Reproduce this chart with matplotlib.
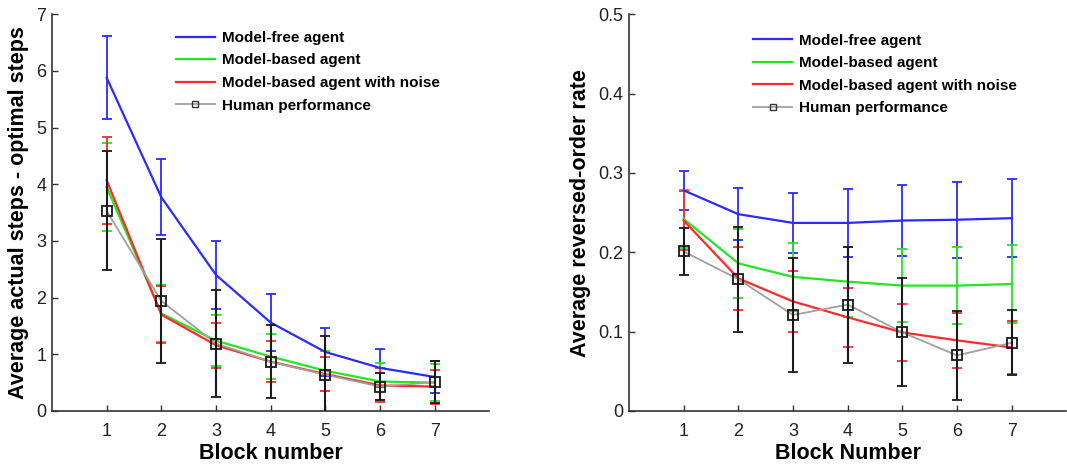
import matplotlib
matplotlib.use("Agg")
import matplotlib.pyplot as plt
from matplotlib.lines import Line2D

plt.rcParams['font.family'] = ['Liberation Sans', 'DejaVu Sans']

blocks = [1, 2, 3, 4, 5, 6, 7]

# Left panel: average actual steps - optimal steps
steps_free = [5.88, 3.77, 2.40, 1.56, 1.04, 0.76, 0.60]
steps_free_err = [0.73, 0.67, 0.60, 0.50, 0.42, 0.33, 0.29]
steps_based = [3.95, 1.72, 1.24, 0.96, 0.71, 0.52, 0.50]
steps_based_err = [0.78, 0.50, 0.45, 0.40, 0.35, 0.32, 0.33]
steps_noise = [4.07, 1.70, 1.16, 0.87, 0.65, 0.45, 0.43]
steps_noise_err = [0.77, 0.50, 0.40, 0.36, 0.30, 0.30, 0.30]
steps_human = [3.53, 1.94, 1.19, 0.87, 0.64, 0.43, 0.51]
steps_human_err = [1.05, 1.09, 0.95, 0.64, 0.68, 0.24, 0.37]

# Right panel: average reversed-order rate
rev_free = [0.278, 0.248, 0.237, 0.237, 0.240, 0.241, 0.243]
rev_free_err = [0.025, 0.033, 0.038, 0.043, 0.045, 0.048, 0.049]
rev_based = [0.242, 0.186, 0.169, 0.163, 0.158, 0.158, 0.160]
rev_based_err = [0.036, 0.043, 0.043, 0.044, 0.046, 0.049, 0.049]
rev_noise = [0.240, 0.167, 0.138, 0.118, 0.099, 0.089, 0.080]
rev_noise_err = [0.037, 0.040, 0.039, 0.037, 0.036, 0.035, 0.034]
rev_human = [0.201, 0.166, 0.121, 0.134, 0.099, 0.070, 0.086]
rev_human_err = [0.030, 0.066, 0.072, 0.073, 0.068, 0.056, 0.041]

labels = ["Model-free agent", "Model-based agent",
          "Model-based agent with noise", "Human performance"]
c_free, c_based, c_noise = "#2b2bff", "#22e622", "#ff2b2b"
c_human = "#a0a0a0"
axis_col = "#333333"

fig = plt.figure(figsize=(10.67, 4.69), dpi=100)
ax1 = fig.add_axes([0.0487, 0.1237, 0.41, 0.846])
ax2 = fig.add_axes([0.5895, 0.1237, 0.41, 0.846])


def draw(ax, free, free_e, based, based_e, noise, noise_e, human, human_e):
    lw = 1.6
    cap = 3.5
    for y, e, c in [(free, free_e, c_free), (based, based_e, c_based),
                    (noise, noise_e, c_noise)]:
        ax.errorbar(blocks, y, yerr=e, color=c, lw=lw, elinewidth=1.3,
                    capsize=cap, capthick=1.3)
    ax.plot(blocks, human, color=c_human, lw=1.3, zorder=4)
    ax.errorbar(blocks, human, yerr=human_e, fmt='none', ecolor='#1a1a1a',
                elinewidth=1.5, capsize=cap, capthick=1.3, zorder=5)
    ax.plot(blocks, human, ls='none', marker='s', ms=7, mfc='none',
            mec='#1a1a1a', mew=1.3, zorder=6)
    ax.set_xlim(0, 8)
    ax.set_xticks(blocks)
    for s in ['top', 'right']:
        ax.spines[s].set_visible(False)
    for s in ['left', 'bottom']:
        ax.spines[s].set_color(axis_col)
        ax.spines[s].set_linewidth(1.2)
    ax.tick_params(direction='in', length=4, width=1, colors=axis_col,
                   labelsize=13, labelcolor='#222222')
    ax.tick_params(axis='x', pad=9)
    ax.tick_params(axis='y', pad=4)


draw(ax1, steps_free, steps_free_err, steps_based, steps_based_err,
     steps_noise, steps_noise_err, steps_human, steps_human_err)
ax1.set_ylim(0, 7)
ax1.set_yticks(range(0, 8))
ax1.set_xlabel("Block number", fontsize=15.5, fontweight='bold', labelpad=2)
ax1.set_ylabel("Average actual steps - optimal steps", fontsize=15.5,
               fontweight='bold', labelpad=5)

draw(ax2, rev_free, rev_free_err, rev_based, rev_based_err,
     rev_noise, rev_noise_err, rev_human, rev_human_err)
ax2.set_ylim(0, 0.5)
ax2.set_yticks([0, 0.1, 0.2, 0.3, 0.4, 0.5])
ax2.set_yticklabels(["0", "0.1", "0.2", "0.3", "0.4", "0.5"])
ax2.set_xlabel("Block Number", fontsize=15.5, fontweight='bold', labelpad=2)
ax2.set_ylabel("Average reversed-order rate", fontsize=15.5,
               fontweight='bold', labelpad=5)

handles = [Line2D([], [], color=c_free, lw=1.6),
           Line2D([], [], color=c_based, lw=1.6),
           Line2D([], [], color=c_noise, lw=1.6),
           Line2D([], [], color=c_human, lw=1.3, marker='s', ms=5,
                  mfc='none', mec='#333333')]
for ax, anchor in [(ax1, (0.26, 0.985)), (ax2, (0.26, 0.978))]:
    ax.legend(handles, labels, loc='upper left', bbox_to_anchor=anchor,
              frameon=False, prop={'weight': 'bold', 'size': 11},
              handlelength=2.5, handletextpad=0.5, labelspacing=0.56,
              borderaxespad=0.3)

fig.savefig("out.png", dpi=100)
